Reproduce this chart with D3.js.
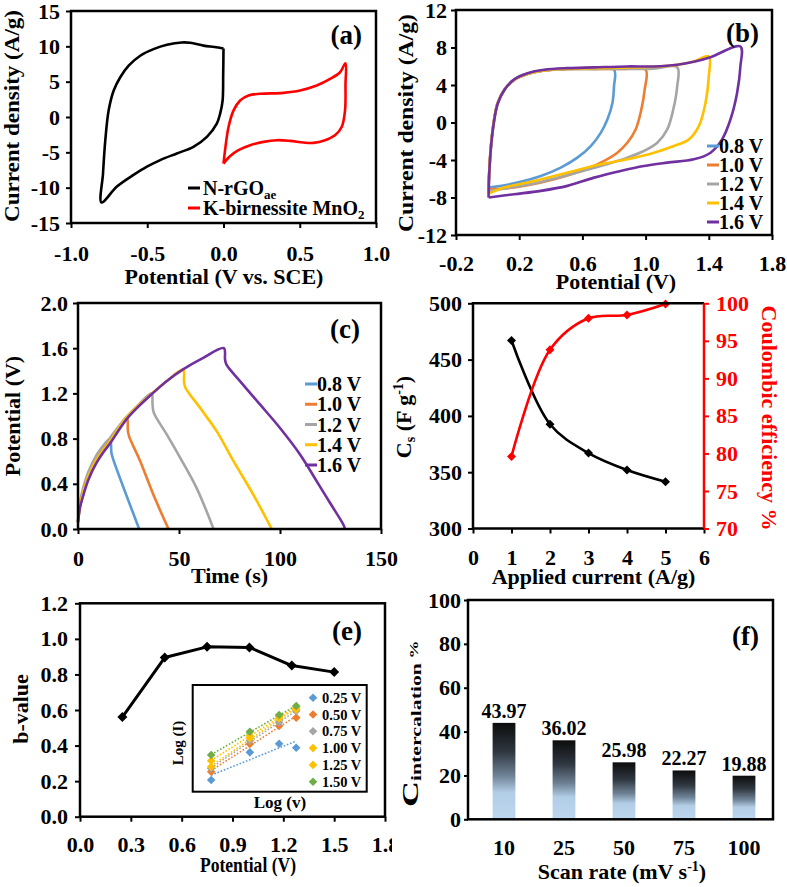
<!DOCTYPE html>
<html><head><meta charset="utf-8">
<script src="https://cdn.jsdelivr.net/npm/d3@7/dist/d3.min.js"></script>
<style>html,body{margin:0;padding:0;background:#fff}svg{display:block}</style>
</head><body>
<svg id="fig" width="787" height="887"></svg>
<script>
// ================= DATA =================
// (a) CV of the two electrodes
const aNrgoX = [0.00, -0.002, -0.006, -0.022, -0.044, -0.109, -0.197, -0.306, -0.415, -0.502, -0.59, -0.699, -0.80, -0.79, -0.775, -0.753, -0.72, -0.677, -0.622, -0.546, -0.459, -0.371, -0.273, -0.218, -0.131, -0.06, 0.00];
const aNrgoY = [9.7, 6.0, 2.3, 0.47, -0.94, -2.81, -4.22, -5.16, -6.1, -7.03, -8.2, -9.85, -12.1, -7.97, -3.28, 0.94, 3.75, 5.62, 7.26, 8.67, 9.6, 10.22, 10.55, 10.5, 10.1, 9.9, 9.7];
const aMnX = [0.00, 0.013, 0.033, 0.066, 0.109, 0.164, 0.24, 0.393, 0.502, 0.611, 0.699, 0.764, 0.80, 0.80, 0.797, 0.775, 0.731, 0.666, 0.59, 0.524, 0.437, 0.349, 0.262, 0.175, 0.098, 0.044, 0.00];
const aMnY = [-6.6, -4.22, -1.41, 0.94, 2.34, 3.05, 3.28, 3.42, 3.75, 4.45, 5.39, 6.33, 7.6, 4.69, 0.94, -1.41, -2.58, -3.28, -3.66, -3.61, -3.38, -3.28, -3.52, -3.99, -4.69, -5.53, -6.6];
const aLegend = ["N-rGO", "K-birnessite MnO"];
const aLegendSub = ["ae", "2"];

// (b) CV at different voltage windows
const bLabels = ["0.8 V", "1.0 V", "1.2 V", "1.4 V", "1.6 V"];
const b08X = [0.006, 0.01, 0.021, 0.038, 0.063, 0.105, 0.168, 0.253, 0.358, 0.505, 0.674, 0.80, 0.80, 0.79, 0.758, 0.716, 0.653, 0.568, 0.463, 0.337, 0.189, 0.042, 0.006];
const b08Y = [-6.9, -5.35, -2.51, 0.0, 2.09, 3.5, 4.57, 5.2, 5.56, 5.7, 5.72, 5.65, 3.86, 2.09, 0.32, -1.1, -2.51, -3.75, -4.81, -5.7, -6.41, -6.87, -6.9];
const b10X = [0.006, 0.01, 0.021, 0.038, 0.063, 0.105, 0.168, 0.253, 0.358, 0.505, 0.674, 0.85, 1.0, 0.994, 0.973, 0.937, 0.884, 0.821, 0.716, 0.589, 0.421, 0.253, 0.105, 0.006];
const b10Y = [-7.1, -5.4, -2.55, -0.05, 2.05, 3.48, 4.55, 5.18, 5.55, 5.7, 5.72, 5.7, 5.65, 3.5, 1.38, -0.74, -2.16, -3.22, -4.28, -5.17, -6.05, -6.69, -7.04, -7.1];
const b12X = [0.006, 0.01, 0.021, 0.038, 0.063, 0.105, 0.168, 0.253, 0.358, 0.505, 0.674, 0.85, 1.05, 1.2, 1.2, 1.175, 1.137, 1.074, 0.989, 0.884, 0.716, 0.526, 0.337, 0.147, 0.006];
const b12Y = [-7.3, -5.45, -2.6, -0.1, 2.0, 3.45, 4.52, 5.16, 5.54, 5.7, 5.72, 5.72, 5.75, 5.9, 3.86, 1.38, -0.74, -2.16, -3.04, -3.75, -4.64, -5.52, -6.34, -6.94, -7.3];
const b14X = [0.006, 0.01, 0.021, 0.038, 0.063, 0.105, 0.168, 0.253, 0.358, 0.505, 0.674, 0.85, 1.05, 1.2, 1.305, 1.4, 1.4, 1.379, 1.337, 1.274, 1.179, 1.053, 0.884, 0.716, 0.589, 0.421, 0.253, 0.105, 0.006];
const b14Y = [-7.6, -5.5, -2.65, -0.15, 1.98, 3.45, 4.55, 5.2, 5.56, 5.72, 5.78, 5.85, 5.95, 6.15, 6.5, 7.05, 4.92, 2.09, -0.39, -1.8, -2.51, -3.22, -3.93, -4.46, -4.99, -5.7, -6.41, -6.94, -7.6];
const b16X = [0.006, 0.01, 0.021, 0.038, 0.063, 0.105, 0.168, 0.253, 0.358, 0.505, 0.674, 0.884, 1.053, 1.2, 1.305, 1.411, 1.6, 1.6, 1.579, 1.537, 1.484, 1.411, 1.305, 1.137, 0.989, 0.842, 0.674, 0.505, 0.337, 0.168, 0.006];
const b16Y = [-8.0, -5.6, -2.7, -0.2, 1.95, 3.45, 4.6, 5.25, 5.62, 5.8, 5.88, 5.98, 5.98, 6.16, 6.48, 6.97, 8.1, 5.98, 3.15, 0.32, -1.8, -3.22, -3.93, -4.28, -4.64, -5.17, -5.88, -6.76, -7.29, -7.65, -8.0];

// (c) charge-discharge
const c08T = [0, 1, 2.5, 5, 9, 13, 16.0, 16.5, 17.0, 30.3];
const c08V = [0.06, 0.21, 0.32, 0.46, 0.61, 0.71, 0.78, 0.68, 0.64, 0.0];
const c10T = [0, 1, 2.5, 5, 9, 13, 16, 20, 24.2, 24.7, 25.3, 30.8, 37.4, 44.8];
const c10V = [0.06, 0.21, 0.32, 0.46, 0.61, 0.72, 0.785, 0.89, 0.99, 0.87, 0.82, 0.6, 0.3, 0.0];
const c12T = [0, 1, 2.5, 5, 9, 13, 16, 20, 24.2, 30, 36.4, 36.9, 37.5, 44, 50.6, 58.8, 67.1];
const c12V = [0.07, 0.24, 0.36, 0.5, 0.65, 0.75, 0.81, 0.905, 0.995, 1.1, 1.2, 1.1, 1.03, 0.835, 0.63, 0.36, 0.0];
const c14T = [0, 1, 2.5, 5, 9, 13, 16, 20, 24.2, 30, 36.6, 44, 52.0, 52.5, 53.2, 60.5, 68.7, 77, 86.9, 95.9];
const c14V = [0.06, 0.21, 0.32, 0.46, 0.61, 0.71, 0.78, 0.89, 0.99, 1.095, 1.2, 1.31, 1.41, 1.3, 1.25, 1.07, 0.864, 0.6, 0.3, 0.0];
const c16T = [0, 1, 2.5, 5, 9, 13, 16, 20, 24.2, 30, 36.6, 44, 52.2, 62, 72.2, 72.8, 73.5, 80.3, 90.2, 100, 110, 118.2, 124.8, 131.4, 132.2];
const c16V = [0.06, 0.19, 0.29, 0.43, 0.58, 0.69, 0.76, 0.87, 0.975, 1.085, 1.195, 1.31, 1.415, 1.515, 1.6, 1.5, 1.454, 1.307, 1.1, 0.894, 0.658, 0.422, 0.23, 0.038, 0.0];

// (d) specific capacitance & coulombic efficiency
const dCurrent = [1, 2, 3, 4, 5];
const dCs = [467, 392.6, 367, 352, 341.6];
const dCE = [79.6, 93.8, 98.0, 98.45, 99.9];

// (e) b-value & inset
const ePotential = [0.25, 0.5, 0.75, 1.0, 1.25, 1.5];
const eB = [0.56, 0.895, 0.955, 0.952, 0.85, 0.813];
const insetLabels = ["0.25 V", "0.50 V", "0.75 V", "1.00 V", "1.25 V", "1.50 V"];
const insetLogV = [1.000, 1.398, 1.699, 1.875];
const insetLogI025 = [0.109, 0.369, 0.45, 0.4125];
const insetLogI050 = [0.1875, 0.447, 0.616, 0.694];
const insetLogI075 = [0.219, 0.478, 0.65, 0.756];
const insetLogI100 = [0.234, 0.5, 0.6875, 0.772];
const insetLogI125 = [0.29, 0.525, 0.703, 0.7875];
const insetLogI150 = [0.344, 0.5625, 0.719, 0.803];

// (f) intercalation contribution
const fRates = ["10", "25", "50", "75", "100"];
const fValues = [43.97, 36.02, 25.98, 22.27, 19.88];

// ================= DRAWING =================
const FONT = "'Liberation Serif','Times New Roman',Times,serif";
const COLORS5 = ["#5B9BD5", "#ED7D31", "#A5A5A5", "#FFC000", "#7030A0"];
const INSET_COLORS = ["#5B9BD5", "#ED7D31", "#A5A5A5", "#FFC000", "#FFC000", "#70AD47"];
const svg = d3.select("#fig");
const defs = svg.append("defs");

function addText(parent, x, y, str, o = {}) {
  const t = parent.append("text").attr("x", x).attr("y", y)
    .attr("font-family", FONT).attr("font-weight", "bold")
    .attr("font-size", o.size || 22).attr("fill", o.fill || "#000")
    .attr("text-anchor", o.anchor || "middle").text(str);
  if (o.len) t.attr("textLength", o.len).attr("lengthAdjust", "spacingAndGlyphs");
  return t;
}
function addRotText(x, y, angle, str, o = {}) {
  const g = svg.append("g").attr("transform", `translate(${x},${y}) rotate(${angle})`);
  return addText(g, 0, 0, str, o);
}
function styleAxis(g, color = "#000", size = 22) {
  g.attr("font-family", null).attr("font-size", null);
  g.select(".domain").remove();
  g.selectAll(".tick line").attr("stroke", color).attr("stroke-width", 2);
  g.selectAll(".tick text").attr("font-family", FONT).attr("font-weight", "bold")
    .attr("font-size", size).attr("fill", color);
}
function frame(x0, x1, y0, y1) {
  svg.append("rect").attr("x", x0).attr("y", y0).attr("width", x1 - x0).attr("height", y1 - y0)
    .attr("fill", "none").attr("stroke", "#000").attr("stroke-width", 2.5);
}
function axisB(scale, y, vals, fmt, pad, size = 5, parent = svg) {
  const g = parent.append("g").attr("transform", `translate(0,${y})`)
    .call(d3.axisBottom(scale).tickValues(vals).tickFormat(fmt).tickSize(size).tickSizeOuter(0).tickPadding(pad));
  styleAxis(g); return g;
}
function axisL(scale, x, vals, fmt, pad, size = 5) {
  const g = svg.append("g").attr("transform", `translate(${x},0)`)
    .call(d3.axisLeft(scale).tickValues(vals).tickFormat(fmt).tickSize(size).tickSizeOuter(0).tickPadding(pad));
  styleAxis(g); return g;
}
const f1 = d => d.toFixed(1);
const f0 = d => String(d);
const diamond = r => `M0,${-r}L${r},0L0,${r}L${-r},0Z`;

// ---------- (a) ----------
{
  const x = d3.scaleLinear().domain([-1, 1]).range([71, 376]);
  const y = d3.scaleLinear().domain([-15, 15]).range([223, 11]);
  axisB(x, 223, [-1, -0.5, 0, 0.5, 1], f1, 17);
  axisL(y, 71, [-15, -10, -5, 0, 5, 10, 15], f0, 6);
  const line = d3.line().x(d => x(d[0])).y(d => y(d[1])).curve(d3.curveCatmullRom.alpha(0.5));
  svg.append("path").attr("d", line(d3.zip(aNrgoX, aNrgoY))).attr("fill", "none").attr("stroke", "#000").attr("stroke-width", 2.6).attr("stroke-linejoin", "round");
  svg.append("path").attr("d", line(d3.zip(aMnX, aMnY))).attr("fill", "none").attr("stroke", "#FF0000").attr("stroke-width", 2.6).attr("stroke-linejoin", "round");
  frame(71, 376, 11, 223);
  const lc = ["#000", "#FF0000"];
  aLegend.forEach((s, i) => {
    const cy = 188 + 20 * i;
    svg.append("line").attr("x1", 188).attr("x2", 200).attr("y1", cy).attr("y2", cy).attr("stroke", lc[i]).attr("stroke-width", 3);
    const t = addText(svg, 203, cy + 7, s, { size: 20, anchor: "start" });
    t.append("tspan").attr("font-size", 13).attr("dy", 4).text(aLegendSub[i]);
  });
  addRotText(19, 116, -90, "Current density (A/g)", { len: 212 });
  addText(svg, 224, 284, "Potential (V vs. SCE)");
  addText(svg, 362, 44, "(a)", { size: 27, anchor: "end" });
}

// ---------- (b) ----------
{
  const x = d3.scaleLinear().domain([-0.2, 1.8]).range([456, 772]);
  const y = d3.scaleLinear().domain([-12, 12]).range([235, 10]);
  axisB(x, 235, [-0.2, 0.2, 0.6, 1.0, 1.4, 1.8], f1, 15);
  axisL(y, 456, [-12, -8, -4, 0, 4, 8, 12], f0, 4);
  const line = d3.line().x(d => x(d[0])).y(d => y(d[1])).curve(d3.curveCatmullRom.alpha(0.5));
  const series = [[b08X, b08Y], [b10X, b10Y], [b12X, b12Y], [b14X, b14Y], [b16X, b16Y]];
  series.forEach((s, i) => {
    svg.append("path").attr("d", line(d3.zip(s[0], s[1]))).attr("fill", "none")
      .attr("stroke", COLORS5[i]).attr("stroke-width", 2.6).attr("stroke-linejoin", "round");
  });
  frame(456, 772, 10, 235);
  bLabels.forEach((s, i) => {
    const cy = 146 + 19 * i;
    svg.append("line").attr("x1", 707).attr("x2", 719).attr("y1", cy).attr("y2", cy).attr("stroke", COLORS5[i]).attr("stroke-width", 3);
    addText(svg, 719, cy + 7, s, { size: 20, anchor: "start" });
  });
  addRotText(413, 123, -90, "Current density (A/g)", { len: 218 });
  addText(svg, 616, 289, "Potential (V)");
  addText(svg, 759, 42, "(b)", { size: 27, anchor: "end" });
}

// ---------- (c) ----------
{
  const x = d3.scaleLinear().domain([0, 150]).range([78, 381]);
  const y = d3.scaleLinear().domain([0, 2]).range([529, 303]);
  axisB(x, 529, [0, 50, 100, 150], f0, 16);
  axisL(y, 78, [0, 0.4, 0.8, 1.2, 1.6, 2.0], f1, 5);
  const line = d3.line().x(d => x(d[0])).y(d => y(d[1])).curve(d3.curveCatmullRom.alpha(0.5));
  const series = [[c08T, c08V], [c10T, c10V], [c12T, c12V], [c14T, c14V], [c16T, c16V]];
  series.forEach((s, i) => {
    svg.append("path").attr("d", line(d3.zip(s[0], s[1]))).attr("fill", "none")
      .attr("stroke", COLORS5[i]).attr("stroke-width", 2.6).attr("stroke-linejoin", "round");
  });
  frame(78, 381, 303, 529);
  bLabels.forEach((s, i) => {
    const cy = 384 + 20.25 * i;
    svg.append("line").attr("x1", 305).attr("x2", 317).attr("y1", cy).attr("y2", cy).attr("stroke", COLORS5[i]).attr("stroke-width", 3);
    addText(svg, 317, cy + 7, s, { size: 20, anchor: "start" });
  });
  addRotText(20, 416, -90, "Potential (V)");
  addText(svg, 229.5, 583, "Time (s)");
  addText(svg, 360, 338, "(c)", { size: 27, anchor: "end" });
}

// ---------- (d) ----------
{
  const x = d3.scaleLinear().domain([0, 6]).range([473, 704]);
  const yL = d3.scaleLinear().domain([300, 500]).range([528.5, 303.3]);
  const yR = d3.scaleLinear().domain([70, 100]).range([528.5, 303.3]);
  axisB(x, 528.5, [0, 1, 2, 3, 4, 5, 6], f0, 16);
  axisL(yL, 473, [300, 350, 400, 450, 500], f0, 6);
  const gR = svg.append("g").attr("transform", "translate(704,0)")
    .call(d3.axisRight(yR).tickValues([70, 75, 80, 85, 90, 95, 100]).tickFormat(f0).tickSize(5).tickSizeOuter(0).tickPadding(7));
  styleAxis(gR, "#FF0000");
  const lineL = d3.line().x((d, i) => x(dCurrent[i])).y(d => yL(d)).curve(d3.curveCatmullRom.alpha(0.5));
  const lineR = d3.line().x((d, i) => x(dCurrent[i])).y(d => yR(d)).curve(d3.curveCatmullRom.alpha(0.5));
  svg.append("path").attr("d", lineL(dCs)).attr("fill", "none").attr("stroke", "#000").attr("stroke-width", 2.6);
  svg.append("path").attr("d", lineR(dCE)).attr("fill", "none").attr("stroke", "#FF0000").attr("stroke-width", 2.6);
  dCs.forEach((v, i) => svg.append("path").attr("d", diamond(4.5)).attr("transform", `translate(${x(dCurrent[i])},${yL(v)})`).attr("fill", "#000"));
  dCE.forEach((v, i) => svg.append("path").attr("d", diamond(4.5)).attr("transform", `translate(${x(dCurrent[i])},${yR(v)})`).attr("fill", "#FF0000"));
  svg.append("path").attr("d", "M704,303.3H473V528.5H704").attr("fill", "none").attr("stroke", "#000").attr("stroke-width", 2.5);
  svg.append("line").attr("x1", 704).attr("x2", 704).attr("y1", 303.3).attr("y2", 528.5).attr("stroke", "#FF0000").attr("stroke-width", 2.5);
  const g = svg.append("g").attr("transform", "translate(411,417) rotate(-90)");
  const t = addText(g, 0, 0, "C");
  t.append("tspan").attr("font-size", 14).attr("dy", 4).text("s");
  t.append("tspan").attr("dy", -4).text(" (F g");
  t.append("tspan").attr("font-size", 14).attr("dy", -8).text("-1");
  t.append("tspan").attr("dy", 8).text(")");
  addRotText(762, 418, 90, "Coulombic efficiency %", { fill: "#FF0000" });
  addText(svg, 593.5, 584, "Applied current (A/g)");
}

// ---------- (e) ----------
{
  const x = d3.scaleLinear().domain([0, 1.8]).range([80, 385]);
  const y = d3.scaleLinear().domain([0, 1.2]).range([816.7, 603.3]);
  defs.append("clipPath").attr("id", "clipE").append("rect").attr("x", 0).attr("y", 590).attr("width", 392).attr("height", 297);
  const gx = svg.append("g").attr("clip-path", "url(#clipE)");
  axisB(x, 816.7, [0, 0.3, 0.6, 0.9, 1.2, 1.5, 1.8], f1, 15, 5, gx);
  axisL(y, 80, [0, 0.2, 0.4, 0.6, 0.8, 1.0, 1.2], f1, 7);
  const line = d3.line().x((d, i) => x(ePotential[i])).y(d => y(d));
  svg.append("path").attr("d", line(eB)).attr("fill", "none").attr("stroke", "#000").attr("stroke-width", 3).attr("stroke-linejoin", "round");
  eB.forEach((v, i) => svg.append("path").attr("d", diamond(5)).attr("transform", `translate(${x(ePotential[i])},${y(v)})`).attr("fill", "#000"));
  frame(80, 385, 603.3, 816.7);

  // inset
  const ix = d3.scaleLinear().domain([0.81, 2.6]).range([192.7, 366.7]);
  const iy = d3.scaleLinear().domain([0, 1]).range([791.7, 685]);
  svg.append("rect").attr("x", 192.7).attr("y", 685).attr("width", 174).attr("height", 106.7)
    .attr("fill", "#fff").attr("stroke", "#000").attr("stroke-width", 2);
  const insetSeries = [insetLogI025, insetLogI050, insetLogI075, insetLogI100, insetLogI125, insetLogI150];
  insetSeries.forEach((ys, k) => {
    const mx = d3.mean(insetLogV), my = d3.mean(ys);
    let num = 0, den = 0;
    insetLogV.forEach((xv, i) => { num += (xv - mx) * (ys[i] - my); den += (xv - mx) * (xv - mx); });
    const slope = num / den, icpt = my - slope * mx;
    const xa = insetLogV[0], xb = insetLogV[insetLogV.length - 1];
    svg.append("line").attr("x1", ix(xa)).attr("y1", iy(icpt + slope * xa)).attr("x2", ix(xb)).attr("y2", iy(icpt + slope * xb))
      .attr("stroke", INSET_COLORS[k]).attr("stroke-width", 1.6).attr("stroke-dasharray", "1.6,1.8");
  });
  insetSeries.forEach((ys, k) => {
    ys.forEach((v, i) => svg.append("path").attr("d", diamond(4.3)).attr("transform", `translate(${ix(insetLogV[i])},${iy(v)})`).attr("fill", INSET_COLORS[k]));
  });
  insetLabels.forEach((s, k) => {
    const cy = 697.7 + 16.8 * k;
    svg.append("path").attr("d", diamond(4.3)).attr("transform", `translate(313,${cy})`).attr("fill", INSET_COLORS[k]);
    addText(svg, 322, cy + 5, s, { size: 14.5, anchor: "start" });
  });
  addText(svg, 280, 808, "Log (v)", { size: 17 });
  addRotText(183, 743, -90, "Log (I)", { size: 15 });

  addRotText(28, 709, -90, "b-value");
  addText(svg, 248, 872, "Potential (V)", { len: 96 });
  addText(svg, 362, 640, "(e)", { size: 27, anchor: "end" });
}

// ---------- (f) ----------
{
  const x = d3.scaleBand().domain(fRates).range([471, 777]).paddingInner(0.62).paddingOuter(0.36);
  const y = d3.scaleLinear().domain([0, 100]).range([819.3, 600]);
  const grad = defs.append("linearGradient").attr("id", "barGrad").attr("x1", 0).attr("y1", 0).attr("x2", 0).attr("y2", 1);
  [[0, "#0c0c0c"], [0.3, "#2f3740"], [0.55, "#6f8396"], [0.72, "#b2cde6"], [1, "#bdd7ee"]].forEach(s =>
    grad.append("stop").attr("offset", s[0]).attr("stop-color", s[1]));
  svg.selectAll(".fbar").data(fValues).enter().append("rect")
    .attr("x", (d, i) => x(fRates[i])).attr("width", x.bandwidth())
    .attr("y", d => y(d)).attr("height", d => y(0) - y(d)).attr("fill", "url(#barGrad)");
  fValues.forEach((v, i) => addText(svg, x(fRates[i]) + x.bandwidth() / 2, y(v) - 5, v.toFixed(2), { size: 20 }));
  const gx = svg.append("g").attr("transform", "translate(0,819.3)")
    .call(d3.axisBottom(x).tickSize(0).tickPadding(20));
  styleAxis(gx);
  axisL(y, 468, [0, 20, 40, 60, 80, 100], f0, 3, 4);
  frame(468, 773, 600, 819.3);
  const g = svg.append("g").attr("transform", "translate(418,807) rotate(-90) scale(1.5,1)");
  const t = addText(g, 0, 0, "C", { size: 24, anchor: "start" });
  t.append("tspan").attr("font-size", 14.5).attr("dy", 3).text("intercalation");
  t.append("tspan").attr("font-size", 12).attr("dy", -3).attr("dx", 3).text("%");
  const tt = addText(svg, 622, 879, "Scan rate (mV s");
  tt.append("tspan").attr("font-size", 14).attr("dy", -8).text("-1");
  tt.append("tspan").attr("dy", 8).text(")");
  addText(svg, 759, 645, "(f)", { size: 27, anchor: "end" });
}
</script>
</body></html>
